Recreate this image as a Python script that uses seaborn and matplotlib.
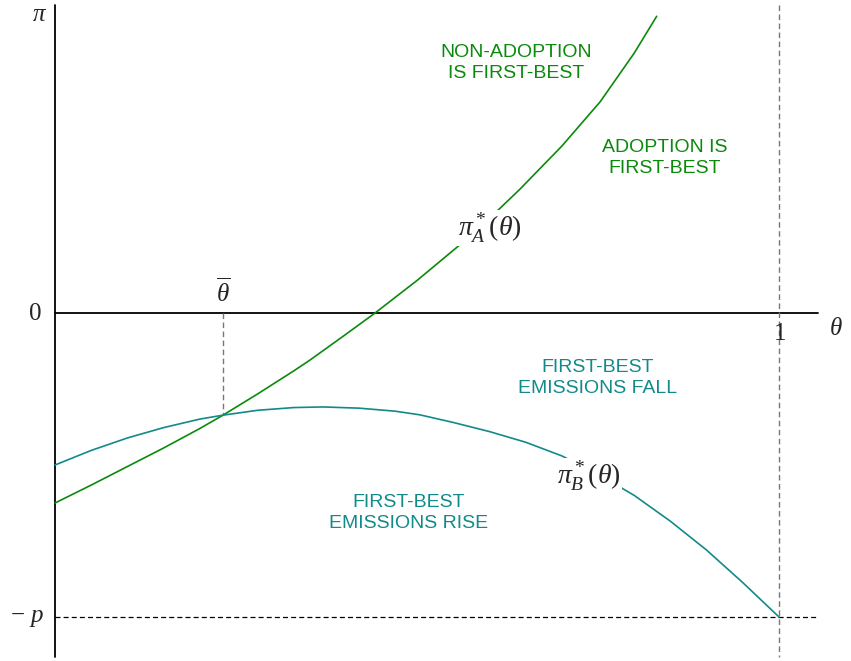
import matplotlib
matplotlib.use("Agg")
import matplotlib.pyplot as plt
import pandas as pd
import seaborn as sns

# values (theta on [0, 1], pi scaled so that p = 1)
theta_a = [0.0, 0.05, 0.10, 0.15, 0.20, 0.232, 0.28, 0.33, 0.352, 0.40, 0.442,
           0.50, 0.555, 0.60, 0.642, 0.70, 0.753, 0.80, 0.831]
pi_a = [-0.625, -0.566, -0.505, -0.444, -0.380, -0.336, -0.266, -0.190, -0.155, -0.073, 0.0,
        0.107, 0.216, 0.311, 0.407, 0.549, 0.695, 0.855, 0.976]

theta_b = [0.0, 0.05, 0.10, 0.15, 0.20, 0.232, 0.28, 0.33, 0.37, 0.42, 0.47,
           0.504, 0.55, 0.60, 0.65, 0.70, 0.75, 0.80, 0.85, 0.90, 0.95, 1.0]
pi_b = [-0.5, -0.452, -0.411, -0.377, -0.349, -0.336, -0.320, -0.311, -0.309, -0.313, -0.323,
        -0.335, -0.360, -0.390, -0.425, -0.470, -0.530, -0.600, -0.685, -0.780, -0.887, -1.0]

theta_bar = 0.232
pi_bar = -0.336
p = 1.0

df_a = pd.DataFrame({"theta": theta_a, "pi": pi_a})
df_b = pd.DataFrame({"theta": theta_b, "pi": pi_b})

sns.set_style("white")
plt.rcParams["mathtext.fontset"] = "custom"
plt.rcParams["mathtext.rm"] = "Liberation Serif"
plt.rcParams["mathtext.it"] = "Liberation Serif:italic"
plt.rcParams["font.family"] = ["Liberation Sans", "DejaVu Sans"]

green = "#0a8a0a"
teal = "#128a8a"

fig = plt.figure(figsize=(8.51, 6.61), dpi=100)
ax = fig.add_axes([0, 0, 1, 1])
ax.set_xlim(-0.076, 1.0994)
ax.set_ylim(-1.1447, 1.0296)
ax.axis("off")

# axes
ax.plot([0, 0], [1.013, -1.13], color="black", lw=1.3)
ax.plot([0, 1.054], [0, 0], color="black", lw=1.3)
ax.plot([0, 1.054], [-p, -p], color="black", lw=0.9, ls=(0, (4, 2.5)))
ax.plot([1, 1], [1.013, -1.13], color="#777777", lw=1.0, ls=(0, (4, 2.5)))
ax.plot([theta_bar, theta_bar], [0, pi_bar], color="#777777", lw=1.0, ls=(0, (4, 2.5)))

sns.lineplot(data=df_a, x="theta", y="pi", ax=ax, color=green, lw=1.2, sort=False)
sns.lineplot(data=df_b, x="theta", y="pi", ax=ax, color=teal, lw=1.2, sort=False)

math_kw = dict(fontsize=18, ha="center", va="center")
ax.text(-0.021, 0.985, r"$\pi$", **math_kw)
ax.text(-0.028, 0.0, r"$0$", **math_kw)
ax.text(theta_bar, 0.07, r"$\overline{\theta}$", **math_kw)
ax.text(1.0, -0.065, r"$1$", **math_kw)
ax.text(1.079, -0.05, r"$\theta$", **math_kw)
ax.text(-0.039, -p, r"$-\ p$", **math_kw)
ax.text(0.601, 0.28, r"$\pi_A^*(\theta)$", fontsize=20, ha="center", va="center",
        bbox=dict(facecolor="white", edgecolor="none", pad=1))
ax.text(0.737, -0.537, r"$\pi_B^*(\theta)$", fontsize=20, ha="center", va="center",
        bbox=dict(facecolor="white", edgecolor="none", pad=1))

txt_kw = dict(fontsize=14, ha="center", va="center", linespacing=1.25)
ax.text(0.637, 0.822, "NON-ADOPTION\nIS FIRST-BEST", color=green, **txt_kw)
ax.text(0.842, 0.510, "ADOPTION IS\nFIRST-BEST", color=green, **txt_kw)
ax.text(0.750, -0.214, "FIRST-BEST\nEMISSIONS FALL", color=teal, **txt_kw)
ax.text(0.488, -0.658, "FIRST-BEST\nEMISSIONS RISE", color=teal, **txt_kw)

fig.savefig("out.png", dpi=100)
